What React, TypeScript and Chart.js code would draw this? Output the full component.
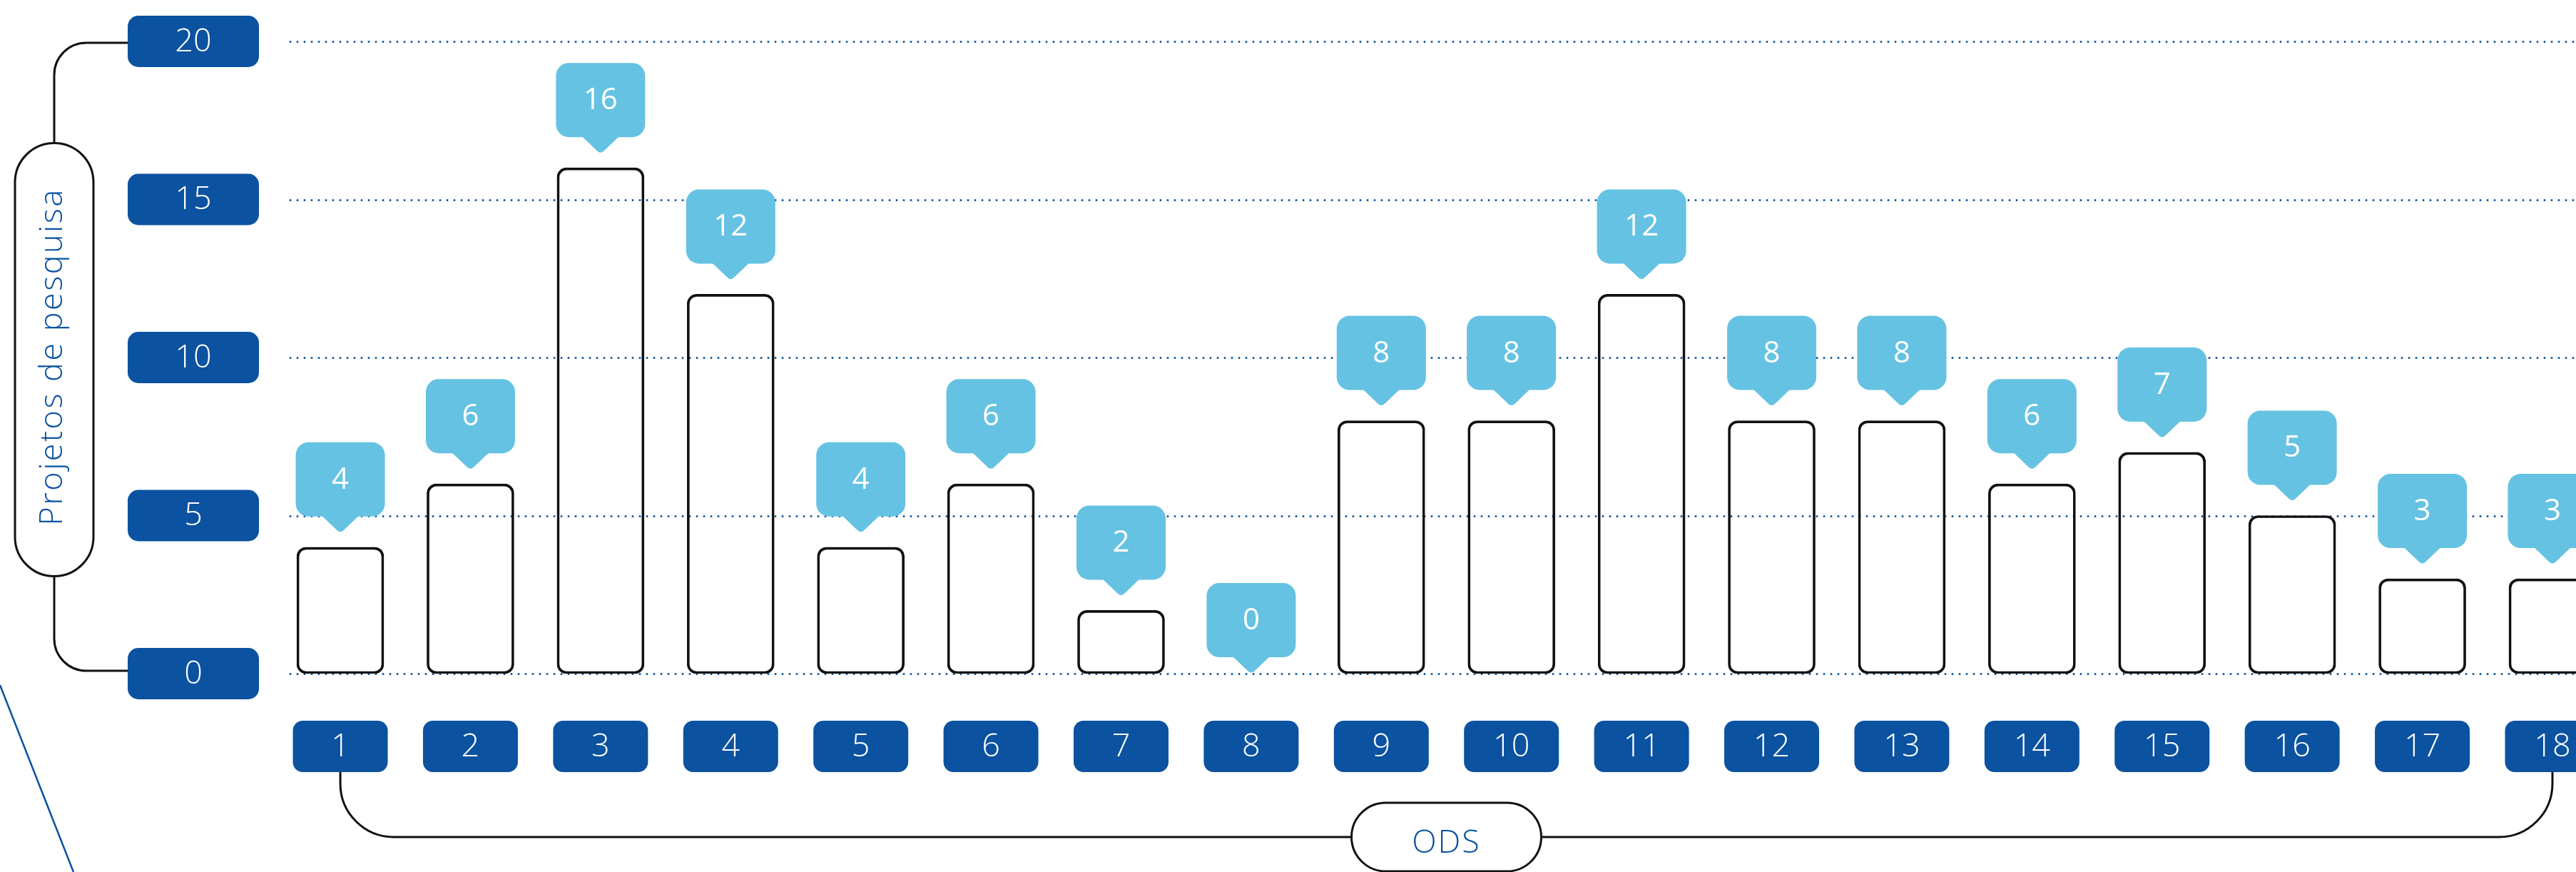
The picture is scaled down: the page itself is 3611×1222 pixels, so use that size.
import React, { useEffect, useRef } from 'react';
import { Chart, registerables } from 'chart.js';

Chart.register(...registerables);

// ---- data ----
const categories = ['1', '2', '3', '4', '5', '6', '7', '8', '9', '10', '11', '12', '13', '14', '15', '16', '17', '18'];
const values = [4, 6, 16, 12, 4, 6, 2, 0, 8, 8, 12, 8, 8, 6, 7, 5, 3, 3];
const yTicks = [0, 5, 10, 15, 20];
const yAxisTitle = 'Projetos de pesquisa';
const xAxisTitle = 'ODS';

// ---- styles ----
const DARK_BLUE = '#0b52a0';
const LIGHT_BLUE = '#65c2e2';
const INK = '#111111';
const FONT = '"Open Sans", "Noto Sans", sans-serif';

function calloutPath(ctx: CanvasRenderingContext2D, cx: number, tipY: number) {
  const w = 125;
  const h = 104;
  const tailH = 23;
  const tailHalf = 27;
  const boxBottom = tipY - tailH;
  const boxTop = boxBottom - h;
  ctx.beginPath();
  ctx.roundRect(cx - w / 2, boxTop, w, h, 18);
  ctx.fill();
  ctx.beginPath();
  ctx.moveTo(cx - tailHalf, boxBottom - 2);
  ctx.lineTo(cx - 5, tipY - 4);
  ctx.quadraticCurveTo(cx, tipY + 1, cx + 5, tipY - 4);
  ctx.lineTo(cx + tailHalf, boxBottom - 2);
  ctx.closePath();
  ctx.fill();
  return { boxTop, boxBottom };
}

const decorPlugin = {
  id: 'decor',
  beforeDatasetsDraw(chart: any) {
    const { ctx, chartArea, scales } = chart;
    const y = scales.y;
    ctx.save();
    ctx.strokeStyle = DARK_BLUE;
    ctx.lineWidth = 3;
    ctx.lineCap = 'round';
    ctx.setLineDash([0, 10]);
    yTicks.forEach((t) => {
      const py = Math.round(y.getPixelForValue(t)) + 0.5;
      ctx.beginPath();
      ctx.moveTo(chartArea.left, py);
      ctx.lineTo(chart.width, py);
      ctx.stroke();
    });
    ctx.restore();
  },
  afterDatasetsDraw(chart: any) {
    const { ctx, chartArea, scales } = chart;
    const x = scales.x;
    const y = scales.y;
    const meta = chart.getDatasetMeta(0);
    ctx.save();

    // value callouts
    meta.data.forEach((bar: any, i: number) => {
      const v = values[i];
      const gap = v > 0 ? 20 : 0;
      const tipY = bar.y - gap;
      ctx.fillStyle = LIGHT_BLUE;
      const { boxTop, boxBottom } = calloutPath(ctx, bar.x, tipY);
      ctx.fillStyle = '#ffffff';
      ctx.font = `500 42px ${FONT}`;
      ctx.textAlign = 'center';
      ctx.textBaseline = 'middle';
      ctx.fillText(String(v), bar.x, (boxTop + boxBottom) / 2 + 1);
    });

    // x category boxes
    const xBoxTop = chartArea.bottom + 66;
    const xBoxH = 72;
    const xBoxW = 133;
    categories.forEach((c) => {
      const px = x.getPixelForValue(Number(c));
      ctx.fillStyle = DARK_BLUE;
      ctx.beginPath();
      ctx.roundRect(px - xBoxW / 2, xBoxTop, xBoxW, xBoxH, 14);
      ctx.fill();
      ctx.fillStyle = '#ffffff';
      ctx.font = `300 45px ${FONT}`;
      ctx.textAlign = 'center';
      ctx.textBaseline = 'middle';
      ctx.fillText(c, px, xBoxTop + xBoxH / 2 + 1);
    });

    // y tick boxes
    const yBoxRight = chartArea.left - 44;
    const yBoxW = 184;
    const yBoxH = 72;
    const yBoxLeft = yBoxRight - yBoxW;
    yTicks.forEach((t) => {
      const py = y.getPixelForValue(t);
      ctx.fillStyle = DARK_BLUE;
      ctx.beginPath();
      ctx.roundRect(yBoxLeft, py - yBoxH / 2, yBoxW, yBoxH, 15);
      ctx.fill();
      ctx.fillStyle = '#ffffff';
      ctx.font = `300 45px ${FONT}`;
      ctx.textAlign = 'center';
      ctx.textBaseline = 'middle';
      ctx.fillText(String(t), yBoxLeft + yBoxW / 2, py + 1);
    });

    // y axis bracket + pill
    ctx.strokeStyle = INK;
    ctx.lineWidth = 3;
    ctx.setLineDash([]);
    const pillCx = 76;
    const pillW = 110;
    const yTopLine = y.getPixelForValue(yTicks[yTicks.length - 1]) + 2;
    const yBotLine = y.getPixelForValue(yTicks[0]) - 4;
    const pillCy = (yTopLine + yBotLine) / 2 + 4;
    const pillLen = 607;
    const pillTop = pillCy - pillLen / 2;
    const pillBot = pillCy + pillLen / 2;
    const r1 = 45;
    ctx.beginPath();
    ctx.moveTo(yBoxLeft, yTopLine);
    ctx.lineTo(pillCx + r1, yTopLine);
    ctx.arcTo(pillCx, yTopLine, pillCx, yTopLine + r1, r1);
    ctx.lineTo(pillCx, pillTop);
    ctx.moveTo(pillCx, pillBot);
    ctx.lineTo(pillCx, yBotLine - r1);
    ctx.arcTo(pillCx, yBotLine, pillCx + r1, yBotLine, r1);
    ctx.lineTo(yBoxLeft, yBotLine);
    ctx.stroke();
    ctx.fillStyle = '#ffffff';
    ctx.beginPath();
    ctx.roundRect(pillCx - pillW / 2, pillTop, pillW, pillLen, pillW / 2);
    ctx.fill();
    ctx.stroke();
    ctx.save();
    ctx.translate(pillCx + 11, pillCy - 4);
    ctx.rotate(-Math.PI / 2);
    ctx.fillStyle = DARK_BLUE;
    ctx.font = `300 45px ${FONT}`;
    (ctx as any).letterSpacing = '2.5px';
    ctx.textAlign = 'center';
    ctx.textBaseline = 'alphabetic';
    ctx.fillText(yAxisTitle, 0, 0);
    ctx.restore();

    // x axis bracket + pill
    const x1 = x.getPixelForValue(Number(categories[0]));
    const xN = x.getPixelForValue(Number(categories[categories.length - 1]));
    const boxBottom = xBoxTop + xBoxH;
    const lineY = boxBottom + 91;
    const r2 = 75;
    const oPillW = 266;
    const oPillH = 96;
    const oCx = (x1 + xN) / 2;
    const oLeft = oCx - oPillW / 2;
    const oRight = oCx + oPillW / 2;
    ctx.strokeStyle = INK;
    ctx.lineWidth = 3;
    ctx.beginPath();
    ctx.moveTo(x1, boxBottom);
    ctx.lineTo(x1, lineY - r2);
    ctx.arcTo(x1, lineY, x1 + r2, lineY, r2);
    ctx.lineTo(oLeft, lineY);
    ctx.moveTo(oRight, lineY);
    ctx.lineTo(xN - r2, lineY);
    ctx.arcTo(xN, lineY, xN, lineY - r2, r2);
    ctx.lineTo(xN, boxBottom);
    ctx.stroke();
    ctx.fillStyle = '#ffffff';
    ctx.beginPath();
    ctx.roundRect(oLeft, lineY - oPillH / 2, oPillW, oPillH, oPillH / 2);
    ctx.fill();
    ctx.stroke();
    ctx.save();
    ctx.fillStyle = DARK_BLUE;
    ctx.font = `300 45px ${FONT}`;
    (ctx as any).letterSpacing = '2px';
    ctx.textAlign = 'center';
    ctx.textBaseline = 'alphabetic';
    ctx.fillText(xAxisTitle, oCx, lineY + 22);
    ctx.restore();

    // decorative diagonal line at bottom-left
    ctx.strokeStyle = DARK_BLUE;
    ctx.lineWidth = 2.5;
    ctx.beginPath();
    ctx.moveTo(0, 960);
    ctx.lineTo(103, 1222);
    ctx.stroke();

    ctx.restore();
  },
};

export default function App() {
  const canvasRef = useRef<HTMLCanvasElement | null>(null);

  useEffect(() => {
    const canvas = canvasRef.current;
    if (!canvas) return;
    const chart = new Chart(canvas, {
      type: 'bar',
      data: {
        datasets: [
          {
            data: categories.map((c, i) => ({ x: Number(c), y: values[i] })),
            backgroundColor: 'rgba(0,0,0,0)',
            borderColor: INK,
            borderWidth: (ctx: any) => (values[ctx.dataIndex] === 0 ? 0 : 3),
            borderRadius: 13,
            borderSkipped: false,
            barThickness: 122,
          } as any,
        ],
      },
      options: {
        animation: false,
        responsive: true,
        maintainAspectRatio: false,
        layout: { padding: { left: 407, top: 58, bottom: 278, right: 0 } },
        plugins: { legend: { display: false }, tooltip: { enabled: false } },
        scales: {
          x: { type: 'linear', min: 0.616, max: 18.181, display: false, offset: false } as any,
          y: { min: 0, max: 20, display: false },
        },
      },
      plugins: [decorPlugin as any],
    });
    return () => chart.destroy();
  }, []);

  return (
    <div style={{ position: 'fixed', left: 0, top: 0, width: '3611px', height: '1222px', background: '#ffffff' }}>
      <canvas ref={canvasRef} />
    </div>
  );
}
